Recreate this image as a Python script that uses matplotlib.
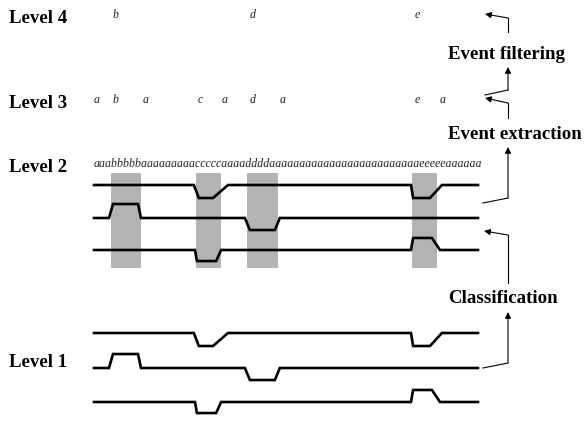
import matplotlib
matplotlib.use("Agg")
import matplotlib.pyplot as plt
import matplotlib.transforms as mtransforms

# ---------------- data ----------------
# time axis in percent of the recording (0..100)
event_names = ["b", "c", "d", "e"]
event_start = [4.4, 26.6, 39.8, 82.8]
event_end = [12.2, 33.1, 47.9, 89.3]

# piecewise-linear sensor signals (time, amplitude)
sig1_t = [0, 26.0, 27.3, 31.0, 34.9, 82.55, 83.1, 87.5, 90.6, 100]
sig1_v = [0, 0, -0.40, -0.40, 0, 0, -0.40, -0.40, 0, 0]
sig2_t = [0, 3.9, 4.95, 11.46, 12.24, 39.3, 40.6, 47.1, 48.4, 100]
sig2_v = [0, 0, 0.43, 0.43, 0, 0, -0.37, -0.37, 0, 0]
sig3_t = [0, 26.3, 26.8, 31.8, 33.1, 82.55, 83.1, 88.0, 90.1, 100]
sig3_v = [0, 0, -0.34, -0.34, 0, 0, 0.37, 0.37, 0, 0]

level2_string = ("aaa" + "bbbbb" + "a" * 9 + "ccccc" + "aaaa" + "dddd"
                 + "a" * 25 + "eeeee" + "a" * 6)

level3_symbols = ["a", "b", "a", "c", "a", "d", "a", "e", "a"]
level3_times = [0.8, 5.5, 13.5, 27.6, 34.1, 41.4, 49.0, 84.1, 90.9]
level4_symbols = ["b", "d", "e"]
level4_times = [5.5, 41.4, 84.1]

level_labels = ["Level 4", "Level 3", "Level 2", "Level 1"]
step_labels = ["Event filtering", "Event extraction", "Classification"]

# ---------------- layout ----------------
W, H = 584, 422
fig = plt.figure(figsize=(W / 100, H / 100), dpi=100)
ax = fig.add_axes([0, 0, 1, 1])
ax.set_xlim(0, W)
ax.set_ylim(H, 0)
ax.axis("off")


def box(x0, x1, y0, y1):
    return [x0 / W, 1 - y1 / H, (x1 - x0) / W, (y1 - y0) / H]


UNIT = 32.5  # pixels per amplitude unit
SIG_X0, SIG_X1 = 94, 478

signals = [(sig1_t, sig1_v), (sig2_t, sig2_v), (sig3_t, sig3_v)]

# Level 2 signals (with shaded events)
ax2 = fig.add_axes(box(SIG_X0, SIG_X1, 173, 268))
ax2.set_xlim(0, 100)
ax2.set_ylim(-(268 - 185) / UNIT, (185 - 173) / UNIT)
ax2.axis("off")
rows2 = [0, -(218 - 185) / UNIT, -(250 - 185) / UNIT]
for s, e in zip(event_start, event_end):
    ax2.axvspan(s, e, color="#b3b3b3", lw=0, zorder=0)
for (t, v), r in zip(signals, rows2):
    ax2.plot(t, [r + x for x in v], color="black", lw=1.9, clip_on=False,
             solid_joinstyle="miter", zorder=2)

# Level 1 signals
ax1 = fig.add_axes(box(SIG_X0, SIG_X1, 318, 420))
ax1.set_xlim(0, 100)
ax1.set_ylim(-(420 - 333) / UNIT, (333 - 318) / UNIT)
ax1.axis("off")
rows1 = [0, -(368 - 333) / UNIT, -(402 - 333) / UNIT]
for (t, v), r in zip(signals, rows1):
    ax1.plot(t, [r + x for x in v], color="black", lw=1.9, clip_on=False,
             solid_joinstyle="miter")

# text positions in time along x
trans = mtransforms.blended_transform_factory(ax2.transData, ax.transData)

serif = ["Liberation Serif", "DejaVu Serif"]
ital = dict(family=serif, style="italic", fontsize=8.6, color="#222222")

ax.text(0, 167, level2_string, transform=trans, ha="left", va="baseline", **ital)
for s, t in zip(level3_symbols, level3_times):
    ax.text(t, 103, s, transform=trans, ha="center", va="baseline", **ital)
for s, t in zip(level4_symbols, level4_times):
    ax.text(t, 18, s, transform=trans, ha="center", va="baseline", **ital)

bold = dict(family=serif, weight="bold", fontsize=13.6, color="black")
for lab, yb in zip(level_labels, [23, 108, 172, 367]):
    ax.text(9, yb, lab, ha="left", va="baseline", **bold)
for lab, yb in zip(step_labels, [59, 139, 303]):
    ax.text(448, yb, lab, ha="left", va="baseline", **bold)

# arrows (flow diagram)
paths = [
    [(508, 32), (508, 18), (485, 14)],
    [(485, 95), (508, 90), (508, 67)],
    [(508, 118), (508, 103), (485, 98)],
    [(483, 203), (508, 198), (508, 147)],
    [(508, 283), (508, 235), (484, 231)],
    [(483, 368), (508, 363), (508, 312)],
]
for p in paths:
    xs = [q[0] for q in p[:-1]]
    ys = [q[1] for q in p[:-1]]
    ax.plot(xs, ys, color="black", lw=0.8)
    ax.annotate("", xy=p[-1], xytext=p[-2],
                arrowprops=dict(arrowstyle="-|>", color="black", lw=0.8,
                                mutation_scale=9, shrinkA=0, shrinkB=0))

fig.savefig("out.png", dpi=100)
